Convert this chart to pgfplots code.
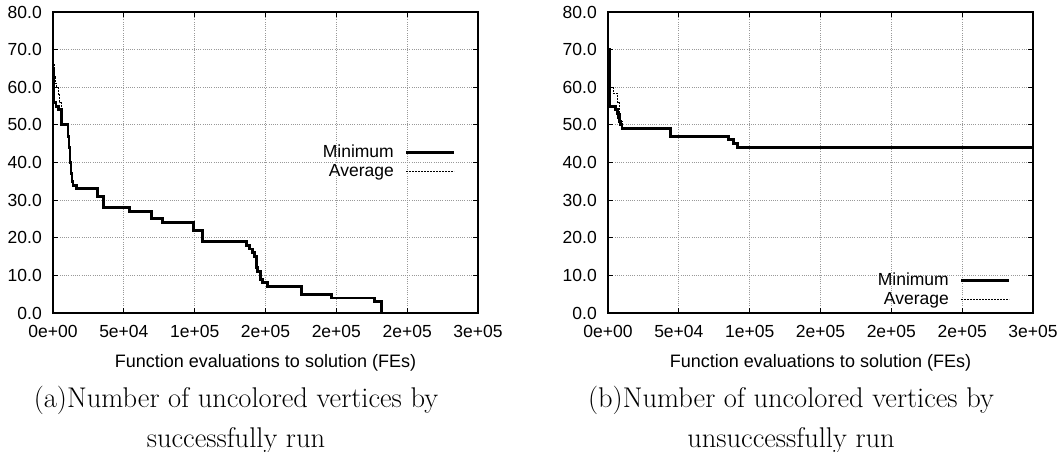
\documentclass[border=0pt]{standalone}
\usepackage{fontspec}
\usepackage{pgfplots}
\pgfplotsset{compat=1.18}
\newfontfamily\lsans{Liberation Sans}
\newcommand{\tickfont}{\lsans\fontsize{17.5}{19}\selectfont}

\pgfplotsset{
  gp/.style={
    scale only axis, width=425pt, height=301pt,
    xmin=0, xmax=300000, ymin=0, ymax=80,
    xtick={0,50000,100000,150000,200000,250000,300000},
    xticklabels={0e+00,5e+04,1e+05,2e+05,2e+05,2e+05,3e+05},
    ytick={0,10,20,30,40,50,60,70,80},
    yticklabels={0.0,10.0,20.0,30.0,40.0,50.0,60.0,70.0,80.0},
    scaled x ticks=false,
    tick align=inside, major tick length=5pt,
    tick style={black, line width=0.8pt},
    axis line style={line width=1.2pt},
    grid=major,
    major grid style={line width=0.8pt, gray!80, dash pattern=on 1pt off 1.2pt},
    xticklabel style={font=\tickfont, anchor=north, inner sep=0pt, yshift=-12pt},
    yticklabel style={font=\tickfont, anchor=east, inner sep=0pt, xshift=-11pt},
    legend style={draw=none, fill=none, font=\tickfont, inner sep=0pt,
      row sep=2pt, column sep=11pt,
      nodes={inner sep=0pt, text height=13pt, text depth=4pt}},
    legend cell align=right,
    legend plot pos=right,
    legend image code/.code={\draw[##1] (0pt,0pt) -- (48pt,0pt);},
    minline/.style={black, line width=2.9pt, const plot},
    avgline/.style={black, line width=0.8pt, dash pattern=on 2pt off 1pt, const plot},
  }
}

\begin{document}
\begin{tikzpicture}
\path[use as bounding box] (0pt,0pt) rectangle (1063pt,-452pt);

% ---------------- panel (a) ----------------
\begin{axis}[gp, at={(53pt,-313pt)}, anchor=south west,
  legend style={at={(axis description cs:0.948,0.561)}, anchor=north east}]
\addplot[minline] coordinates {
(0,65) (300,56) (2100,55) (4200,54) (6300,50)
(10600,47) (11300,44) (12000,40) (12700,37) (13400,35) (14100,34) (16900,33)
(31700,31) (35900,28) (54200,27) (69700,25) (77500,24) (99300,22) (105600,19)
(136600,18) (138700,17) (140800,16) (142300,15) (143700,12) (144400,11)
(146500,9) (147900,8) (151400,7) (175300,5) (196500,4) (226800,3) (231700,0)};
\addplot[avgline] coordinates {
(0,66) (800,63) (1700,61) (2500,60) (3500,58) (4500,56) (5600,54) (6300,50)
(10600,47) (11300,44) (12000,40) (12700,37) (13400,35) (14100,34) (16900,33)
(31700,31) (35900,28) (54200,27) (69700,25) (77500,24) (99300,22) (105600,19)
(136600,18) (138700,17) (140800,16) (142300,15) (143700,12) (144400,11)
(146500,9) (147900,8) (151400,7) (175300,5) (196500,4) (226800,3) (231700,0)};
\legend{Minimum,Average}
\end{axis}

% ---------------- panel (b) ----------------
\begin{axis}[gp, at={(608pt,-313pt)}, anchor=south west,
  legend style={at={(axis description cs:0.948,0.136)}, anchor=north east}]
\addplot[minline] coordinates {
(0,70) (1400,55) (5600,54) (6500,53) (7300,52) (8000,51) (8800,50) (9900,49)
(44400,47) (85200,46) (88700,45) (91500,44) (300000,44)};
\addplot[avgline] coordinates {
(0,62) (500,61) (1400,60) (3500,58.5) (6300,56) (7700,53) (9000,51) (9900,49)
(44400,47) (85200,46) (88700,45) (91500,44) (300000,44)};
\legend{Minimum,Average}
\end{axis}

% ---------------- x labels ----------------
\node[font=\lsans\fontsize{18}{20}\selectfont, anchor=base] at (265.5pt,-367pt)
  {Function evaluations to solution (FEs)};
\node[font=\lsans\fontsize{18}{20}\selectfont, anchor=base] at (820.5pt,-367pt)
  {Function evaluations to solution (FEs)};

% ---------------- captions ----------------
\node[font=\fontsize{28.5}{40}\selectfont, anchor=base] at (236pt,-407pt)
  {(a)Number of uncolored vertices by};
\node[font=\fontsize{28.5}{40}\selectfont, anchor=base] at (236pt,-447pt)
  {successfully run};
\node[font=\fontsize{28.5}{40}\selectfont, anchor=base] at (791pt,-407pt)
  {(b)Number of uncolored vertices by};
\node[font=\fontsize{28.5}{40}\selectfont, anchor=base] at (791pt,-447pt)
  {unsuccessfully run};
\end{tikzpicture}
\end{document}
